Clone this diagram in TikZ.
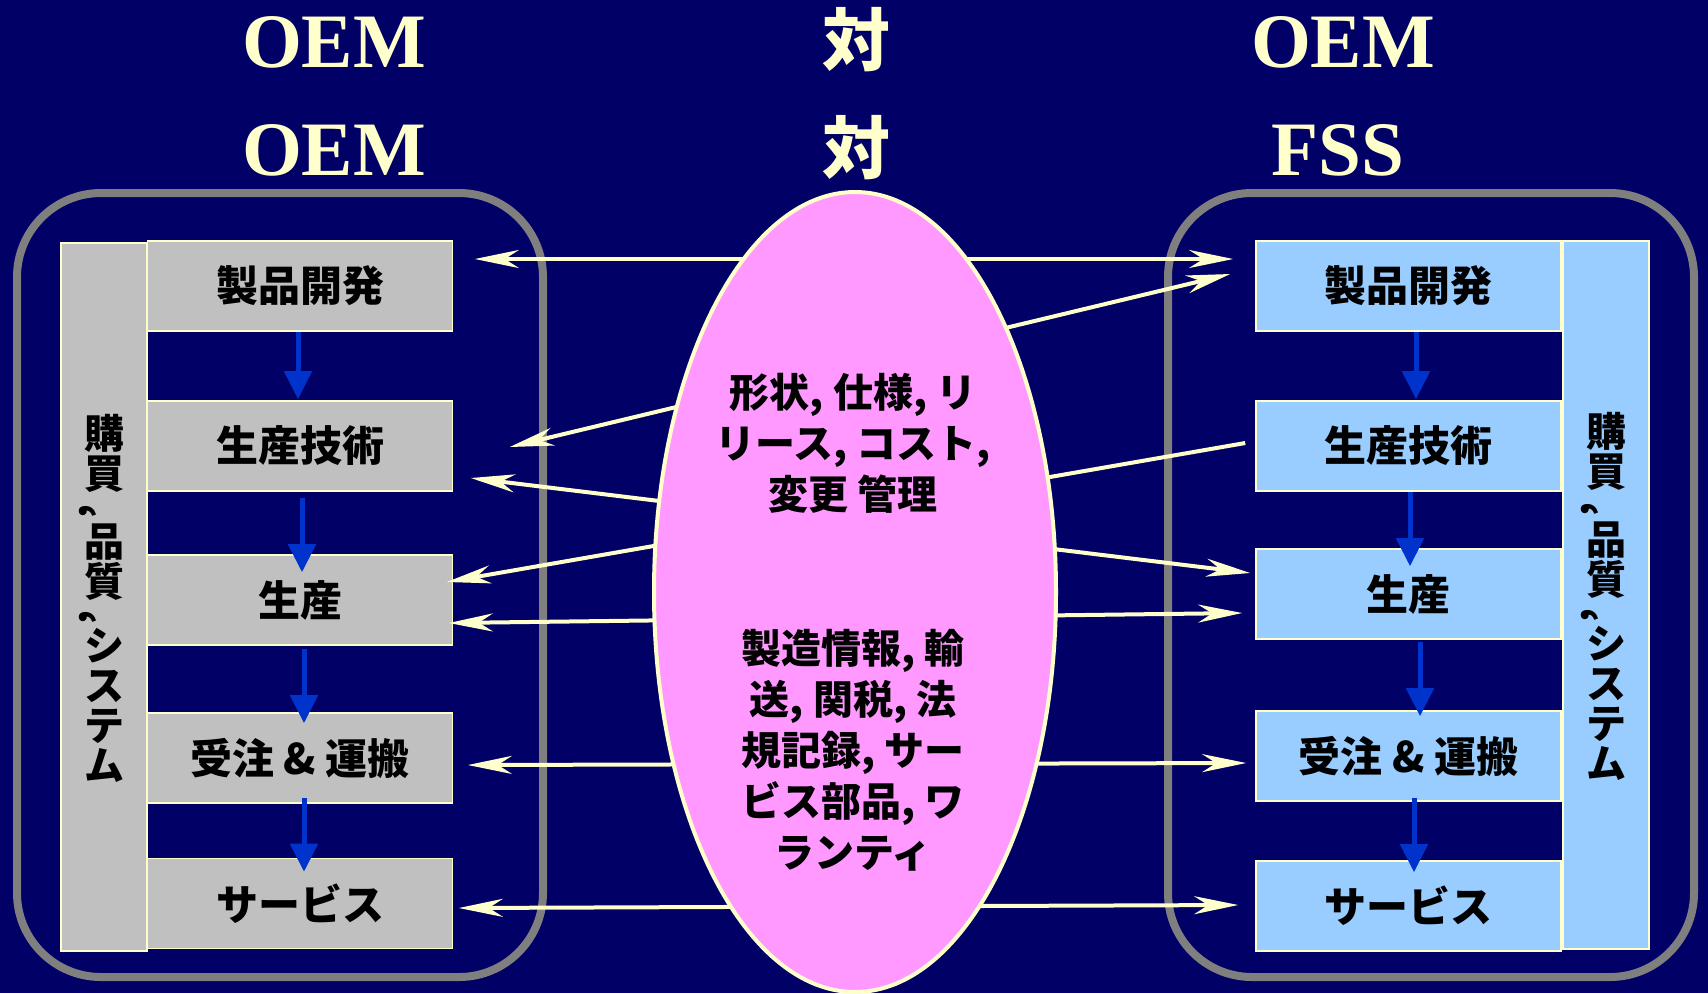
\documentclass[tikz,border=0pt]{standalone}
\usepackage{fontspec}
\usepackage{graphicx}
\usetikzlibrary{arrows.meta,calc,shapes.geometric}
\newfontfamily\cjk{Noto Sans CJK JP}
\newfontfamily\titlefont{Liberation Serif}
\definecolor{bg}{HTML}{000066}
\definecolor{cream}{HTML}{FFFFCC}
\definecolor{graybox}{HTML}{C0C0C0}
\definecolor{bluebox}{HTML}{99CCFF}
\definecolor{framegray}{HTML}{7F7F7F}
\definecolor{flowblue}{HTML}{0033CC}
\definecolor{pinkfill}{HTML}{FF99FF}
\newcommand{\vcomma}{\hspace*{-16pt}\rotatebox{90}{,}}
\tikzset{
  stagebox/.style={draw=cream, line width=0.8pt, minimum width=152.5pt, minimum height=45pt,
    inner sep=0pt, text=black, font=\cjk\bfseries\fontsize{21pt}{25pt}\selectfont},
  leftbox/.style={stagebox, fill=graybox},
  rightbox/.style={stagebox, fill=bluebox},
  sidebar/.style={draw=cream, line width=0.8pt, minimum width=43pt, minimum height=354pt, inner sep=0pt},
  sidetext/.style={align=center, text=black, inner sep=0pt, font=\cjk\bfseries\fontsize{20pt}{20pt}\selectfont},
  frameline/.style={draw=framegray, line width=4pt, rounded corners=42pt},
  flowarrow/.style={draw=flowblue, line width=2.5pt, -{Triangle[length=14pt,width=13.5pt]}},
  linkline/.style={draw=cream, line width=2pt},
  hubtext/.style={align=center, text=black, inner sep=0pt, font=\cjk\bfseries\fontsize{20pt}{25.5pt}\selectfont},
  titletext/.style={text=cream, inner sep=0pt, font=\titlefont\bfseries\fontsize{38.5pt}{40pt}\selectfont},
  duitext/.style={text=cream, inner sep=0pt, font=\cjk\bfseries\fontsize{34pt}{36pt}\selectfont},
  >={Stealth[length=22pt,width=9pt,inset=7pt]}
}
\begin{document}
\begin{tikzpicture}[x=0.5pt, y=-0.5pt]
\useasboundingbox (0,0) rectangle (1708,993);
\fill[bg] (0,0) rectangle (1708,993);

% titles
\node[titletext] (tl1) at (334,42) {OEM};
\node[titletext] (tl2) at (334,150) {OEM};
\node[duitext] (tm1) at (856,40) {対};
\node[duitext] (tm2) at (856,148) {対};
\node[titletext] (tr1) at (1343,42) {OEM};
\node[titletext] (tr2) at (1338,150) {FSS};

% frames
\draw[frameline] (17,193) rectangle (543,977);
\draw[frameline] (1168,193) rectangle (1694,977);

% side bars
\node[sidebar, fill=graybox] (LB) at (104,597) {};
\node[sidebar, fill=bluebox] (RB) at (1606,595) {};
\node[sidetext] (LBt) at (104,598) {購\\買\\[-5pt]\vcomma\\[-1pt]品\\質\\[-6pt]\vcomma\\[-2pt]シ\\ス\\テ\\ム};
\node[sidetext] (RBt) at (1606,596) {購\\買\\[-5pt]\vcomma\\[-1pt]品\\質\\[-6pt]\vcomma\\[-2pt]シ\\ス\\テ\\ム};

% left boxes
\node[leftbox] (L1) at (300,286) {製品開発};
\node[leftbox] (L2) at (300,446) {生産技術};
\node[leftbox] (L3) at (300,600) {生産};
\node[leftbox] (L4) at (300,758) {受注 \& 運搬};
\node[leftbox] (L5) at (300,903.5) {サービス};

% right boxes
\node[rightbox] (R1) at (1408.5,286) {製品開発};
\node[rightbox] (R2) at (1408.5,446) {生産技術};
\node[rightbox] (R3) at (1408.5,594) {生産};
\node[rightbox] (R4) at (1408.5,756) {受注 \& 運搬};
\node[rightbox] (R5) at (1408.5,906) {サービス};

% flow arrows
\draw[flowarrow] ($(L1.south)+(-2,0)$) -- ($(L2.north)+(-2,-1)$);
\draw[flowarrow] ($(L2.south)+(2,6)$) -- ($(L3.north)+(2,18)$);
\draw[flowarrow] ($(L3.south)+(4,3)$) -- ($(L4.north)+(4,11)$);
\draw[flowarrow] ($(L4.south)+(4,-6)$) -- ($(L5.north)+(4,14)$);
\draw[flowarrow] ($(R1.south)+(7.5,0)$) -- ($(R2.north)+(7.5,-1)$);
\draw[flowarrow] ($(R2.south)+(1.5,0)$) -- ($(R3.north)+(1.5,18)$);
\draw[flowarrow] ($(R3.south)+(11.5,2)$) -- ($(R4.north)+(11.5,6)$);
\draw[flowarrow] ($(R4.south)+(5.5,-4)$) -- ($(R5.north)+(5.5,12)$);

% link end points
\coordinate (aL) at ($(L1.east)+(21.5,-27)$);
\coordinate (aR) at ($(R1.west)+(-22,-27)$);
\coordinate (bL) at ($(L2.east)+(56.5,1)$);
\coordinate (bR) at ($(R1.west)+(-25,-12)$);
\coordinate (cL) at ($(L2.east)+(17.5,32)$);
\coordinate (cR) at ($(R3.west)+(-5,-21)$);
\coordinate (dL) at ($(L3.east)+(-6.5,-18)$);
\coordinate (dR) at ($(R2.west)+(-10,-3)$);
\coordinate (eL) at ($(L3.east)+(-4.5,23)$);
\coordinate (eR) at ($(R3.west)+(-13,19)$);
\coordinate (fL) at ($(L4.east)+(14.5,7)$);
\coordinate (fR) at ($(R4.west)+(-9,7)$);
\coordinate (gL) at ($(L5.east)+(5.5,4.5)$);
\coordinate (gR) at ($(R5.west)+(-17,-1)$);

\draw[linkline, <->] (aL) -- (aR);
\draw[linkline, <->] (bL) -- (bR);
\draw[linkline, <->] (cL) -- (cR);
\draw[linkline, <-] (dL) -- (dR);
\draw[linkline, <->] (eL) -- (eR);
\draw[linkline, <->] (fL) -- (fR);
\draw[linkline, <->] (gL) -- (gR);

% hub
\node[ellipse, draw=cream, line width=2pt, fill=pinkfill, minimum width=201pt, minimum height=400pt, inner sep=0pt] (hub) at (855,592) {};
\node[hubtext] (spec) at (853,443) {形状, 仕様, リ\\リース, コスト,\\変更 管理};
\node[hubtext] (mfg) at (853,750) {製造情報, 輸\\送, 関税, 法\\規記録, サー\\ビス部品, ワ\\ランティ};
\end{tikzpicture}
\end{document}
